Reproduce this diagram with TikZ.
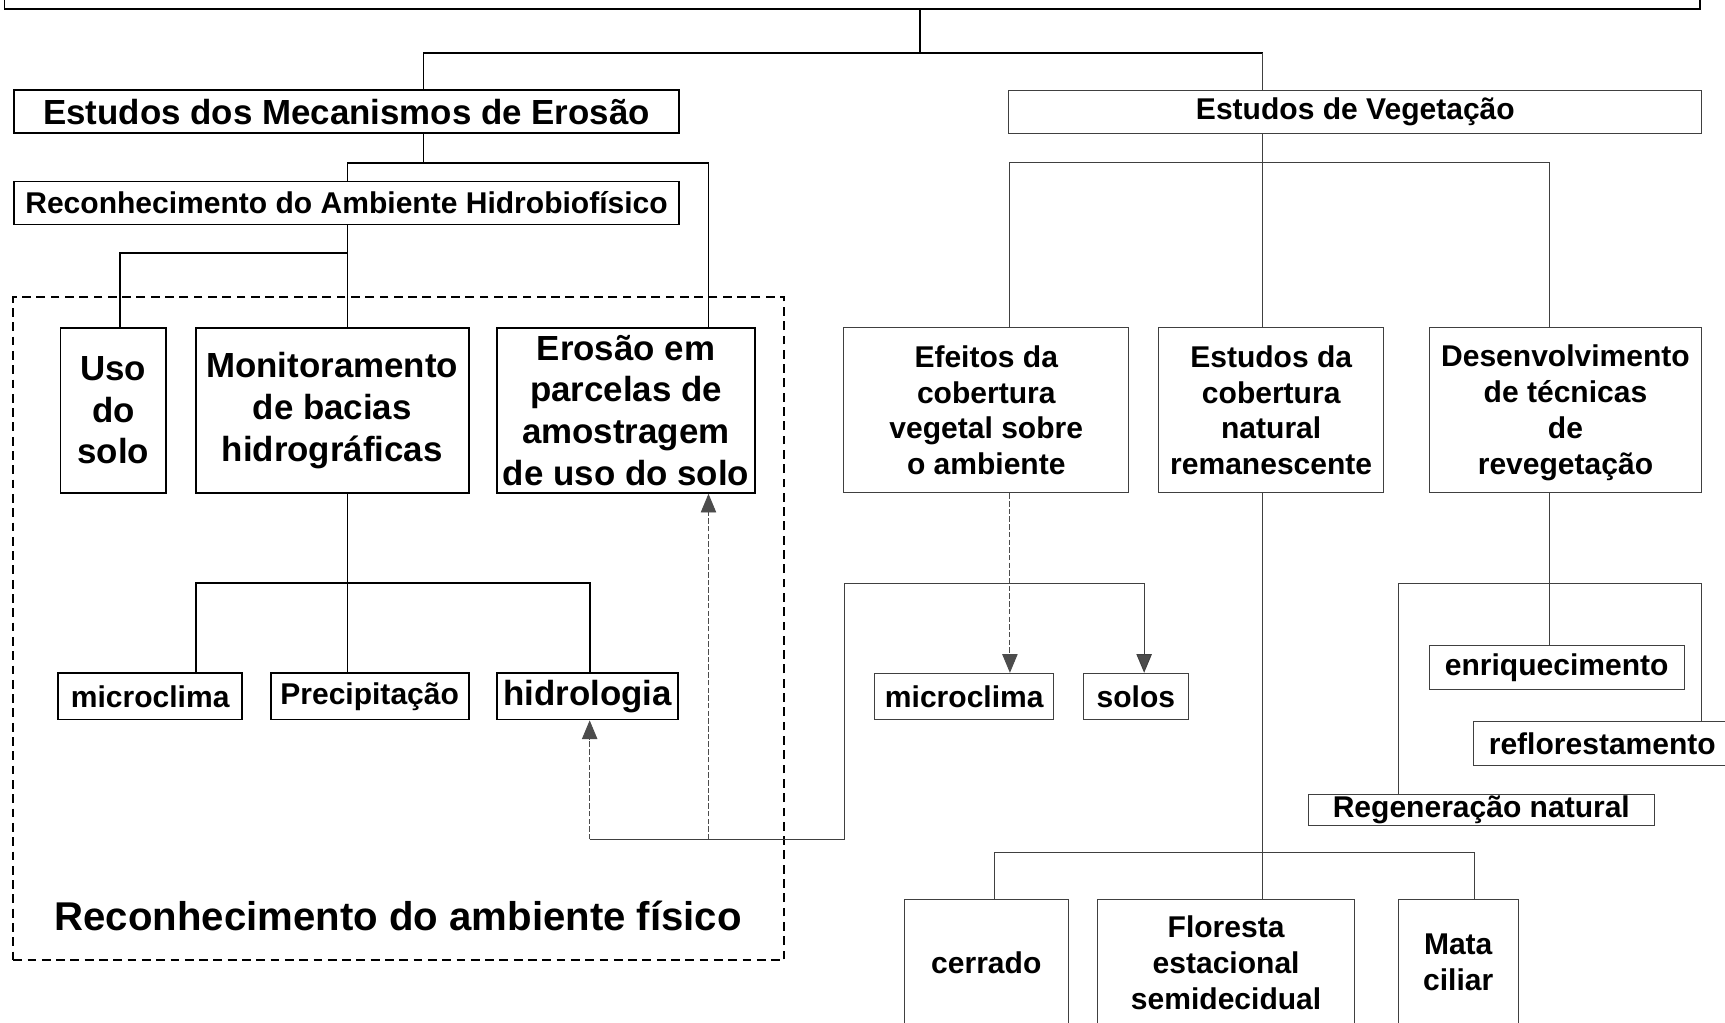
\documentclass[tikz,border=0pt]{standalone}
\usepackage{fontspec}
\setmainfont{Liberation Sans}
\usetikzlibrary{arrows.meta}
\begin{document}
\begin{tikzpicture}[x=1pt,y=-1pt,
  base/.style={inner sep=0pt, align=center},
  sbox/.style={base, draw, line width=1.6pt},
  tbox/.style={base, draw=black!75, line width=0.9pt},
  fN/.style={font=\fontsize{27.3}{32.5}\selectfont\bfseries},
  fL/.style={font=\fontsize{31.7}{38}\selectfont\bfseries},
  sline/.style={line width=1.5pt},
  tline/.style={line width=0.9pt, draw=black!75},
  fb/.style={line width=0.8pt, draw=black!70, dash pattern=on 5pt off 2pt},
  tip/.style={-{Triangle[width=14pt,length=17pt,fill=black!70]}}
]
\useasboundingbox (0,0) rectangle (1568,929);

% frame of the physical environment group
\node[draw, line width=1.8pt, dash pattern=on 8pt off 5pt, minimum width=701pt, minimum height=603pt, inner sep=0pt] (frame) at (362.5,571.5) {};
\node[base, font=\fontsize{36.5}{44}\selectfont\bfseries] (framelbl) at (362,833) {Reconhecimento do ambiente físico};

% boxes
\node[sbox, minimum width=1541pt, minimum height=60pt] (top) at (774.5,-22) {};
\node[sbox, fL, minimum width=604pt, minimum height=39pt] (eme) at (315,101.5) {Estudos dos Mecanismos de Erosão};
\node[tbox, fN, minimum width=630pt, minimum height=39pt] (veg) at (1232,101.5) {\raisebox{-2pt}{Estudos de Vegetação}};
\node[sbox, fN, minimum width=604pt, minimum height=39pt] (hid) at (315,184.5) {Reconhecimento do Ambiente Hidrobiofísico};

\node[sbox, fL, minimum width=96pt, minimum height=150pt] (uso) at (103,373) {Uso\\do\\solo};
\node[sbox, fL, minimum width=248pt, minimum height=150pt] (mon) at (302,373) {Monitoramento\\de bacias\\hidrográficas};
\node[sbox, fL, minimum width=234pt, minimum height=150pt] (ero) at (569,373) {Erosão em\\parcelas de\\amostragem\\de uso do solo};

\node[sbox, fN, minimum width=167pt, minimum height=42pt] (mic1) at (136.5,633) {microclima};
\node[sbox, fN, minimum width=180pt, minimum height=42pt] (pre) at (336,633) {\raisebox{-2.5pt}{Precipitação}};
\node[sbox, fL, minimum width=164pt, minimum height=42pt] (hidro) at (534,633) {\raisebox{-3pt}{hidrologia}};

\node[tbox, fN, minimum width=259pt, minimum height=150pt] (efe) at (896.5,373) {Efeitos da\\cobertura\\vegetal sobre\\o ambiente};
\node[tbox, fN, minimum width=205pt, minimum height=150pt] (nat) at (1155.5,373) {Estudos da\\cobertura\\natural\\remanescente};
\node[tbox, fN, minimum width=248pt, minimum height=150pt, text depth=0.12em] (des) at (1423,373) {Desenvolvimento\\de técnicas\\de\\revegetação};

\node[tbox, fN, minimum width=163pt, minimum height=42pt] (mic2) at (876.5,633) {microclima};
\node[tbox, fN, minimum width=95pt, minimum height=42pt] (sol) at (1032.5,633) {solos};

\node[tbox, fN, minimum width=232pt, minimum height=40pt] (enr) at (1415,607) {enriquecimento};
\node[tbox, fN, minimum width=235pt, minimum height=40pt] (ref) at (1456.5,676) {reflorestamento};
\node[tbox, fN, minimum width=315pt, minimum height=28pt] (reg) at (1346.5,736) {\raisebox{-1.5pt}{Regeneração natural}};

\node[tbox, fN, minimum width=149pt, minimum height=114pt] (cer) at (896.5,875) {cerrado};
\node[tbox, fN, minimum width=233pt, minimum height=114pt] (flo) at (1114.5,875) {Floresta\\estacional\\semidecidual};
\node[tbox, fN, minimum width=109pt, minimum height=114pt] (mat) at (1325.5,875) {Mata\\ciliar};

% junction points
\coordinate (a1) at (836,48);
\coordinate (a2) at (385,48);
\coordinate (a3) at (1148,48);
\coordinate (b1) at (385,148);
\coordinate (b2) at (316,148);
\coordinate (b3) at (644,148);
\coordinate (c1) at (316,230);
\coordinate (c2) at (109,230);
\coordinate (d1) at (316,530);
\coordinate (d2) at (178,530);
\coordinate (d3) at (536,530);
\coordinate (e1) at (1148,148);
\coordinate (e2) at (918,148);
\coordinate (e3) at (1408,148);
\coordinate (f2) at (768,530);
\coordinate (f3) at (1040,530);
\coordinate (f4) at (768,763);
\coordinate (f5) at (536,763);
\coordinate (f6) at (644,763);
\coordinate (g1) at (1148,775);
\coordinate (g2) at (904,775);
\coordinate (g3) at (1340,775);
\coordinate (h1) at (1408,530);
\coordinate (h2) at (1271,530);
\coordinate (h3) at (1547,530);

% connectors
\draw[sline] (top.south -| a1) -- (a1);
\draw[sline] (eme.north -| a2) -- (a2) -- (a3);
\draw[tline] (a3) -- (veg.north -| a3);

\draw[sline] (eme.south -| b1) -- (b1);
\draw[sline] (hid.north -| b2) -- (b2) -- (b3) -- (ero.north -| b3);

\draw[sline] (hid.south -| c1) -- (mon.north -| c1);
\draw[sline] (c1) -- (c2) -- (uso.north -| c2);

\draw[sline] (mon.south -| d1) -- (pre.north -| d1);
\draw[sline] (mic1.north -| d2) -- (d2) -- (d3) -- (hidro.north -| d3);

\draw[tline] (veg.south -| e1) -- (nat.north -| e1);
\draw[tline] (efe.north -| e2) -- (e2) -- (e3) -- (des.north -| e3);

\draw[fb, tip] (efe.south -| e2) -- (mic2.north -| e2);
\draw[tline] (f4) -- (f2) -- (f3);
\draw[tline, tip] (f3) -- (sol.north -| f3);
\draw[tline] (f4) -- (f5);
\draw[fb, tip] (f5) -- (hidro.south -| f5);
\draw[fb, tip] (f6) -- (ero.south -| f6);

\draw[tline] (nat.south -| g1) -- (flo.north -| g1);
\draw[tline] (cer.north -| g2) -- (g2) -- (g3) -- (mat.north -| g3);

\draw[tline] (des.south -| h1) -- (enr.north -| h1);
\draw[tline] (reg.north -| h2) -- (h2) -- (h3) -- (ref.north -| h3);
\end{tikzpicture}
\end{document}
